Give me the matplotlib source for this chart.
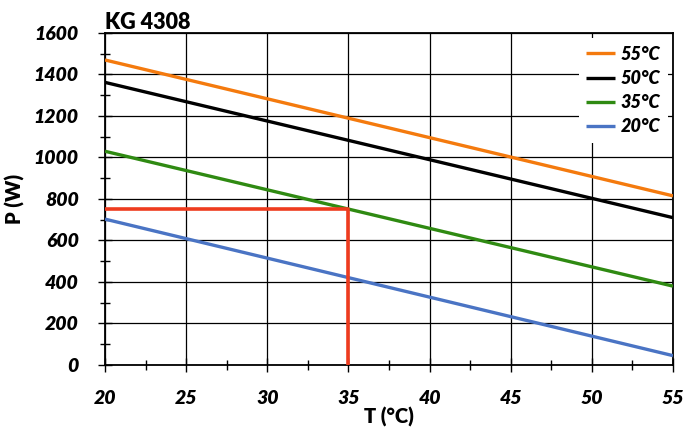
import matplotlib
matplotlib.use("Agg")
import matplotlib.pyplot as plt
from matplotlib.ticker import MultipleLocator

plt.rcParams['font.family'] = ['Lato', 'DejaVu Sans']

x_vals = [20, 55]
series_labels = ["55°C", "50°C", "35°C", "20°C"]
series_values = [
    [1470, 815],
    [1362, 710],
    [1030, 380],
    [703, 45],
]
series_colors = ["#F47A0E", "#000000", "#2F8A12", "#4A74C4"]

red_x = [20, 35, 35]
red_y = [750, 750, 0]

fig = plt.figure(figsize=(6.88, 4.37), dpi=100)
ax = fig.add_axes([0.1526, 0.1648, 0.8256, 0.7597])

for lab, vals, col in zip(series_labels, series_values, series_colors):
    ax.plot(x_vals, vals, color=col, lw=2.4, label=lab, solid_capstyle='butt', zorder=3)

ax.plot(red_x, red_y, color="#EE3B1E", lw=2.6, zorder=4, solid_capstyle='butt')

ax.set_xlim(20, 55)
ax.set_ylim(0, 1600)
ax.xaxis.set_major_locator(MultipleLocator(5))
ax.xaxis.set_minor_locator(MultipleLocator(2.5))
ax.yaxis.set_major_locator(MultipleLocator(200))
ax.yaxis.set_minor_locator(MultipleLocator(100))
ax.grid(True, which='major', color='black', lw=0.9, zorder=1)
ax.tick_params(which='major', direction='inout', length=10, width=1, labelsize=14)
ax.tick_params(which='minor', direction='inout', length=7, width=1)
ax.tick_params(axis='x', pad=13)
ax.tick_params(axis='y', pad=14)
for lbl in ax.get_xticklabels() + ax.get_yticklabels():
    lbl.set_fontweight('heavy')
    lbl.set_fontstyle('italic')
for s in ax.spines.values():
    s.set_linewidth(1.3)
    s.set_color('black')

ax.set_xlabel("T (°C)", fontsize=14.5, fontweight='heavy', labelpad=0)
ax.set_ylabel("P (W)", fontsize=14.5, fontweight='heavy', labelpad=6)
ax.set_title("KG 4308", fontsize=15.5, fontweight='heavy', loc='left', pad=3)

leg = ax.legend(loc='upper right', frameon=True, fancybox=False, handlelength=1.6,
                handletextpad=0.3, labelspacing=0.4, borderaxespad=0.3,
                prop={'weight': 'heavy', 'style': 'italic', 'size': 13})
leg.get_frame().set_edgecolor('none')
leg.get_frame().set_facecolor('white')
leg.get_frame().set_alpha(1)
leg.set_zorder(5)

fig.savefig("out.png", dpi=100)
